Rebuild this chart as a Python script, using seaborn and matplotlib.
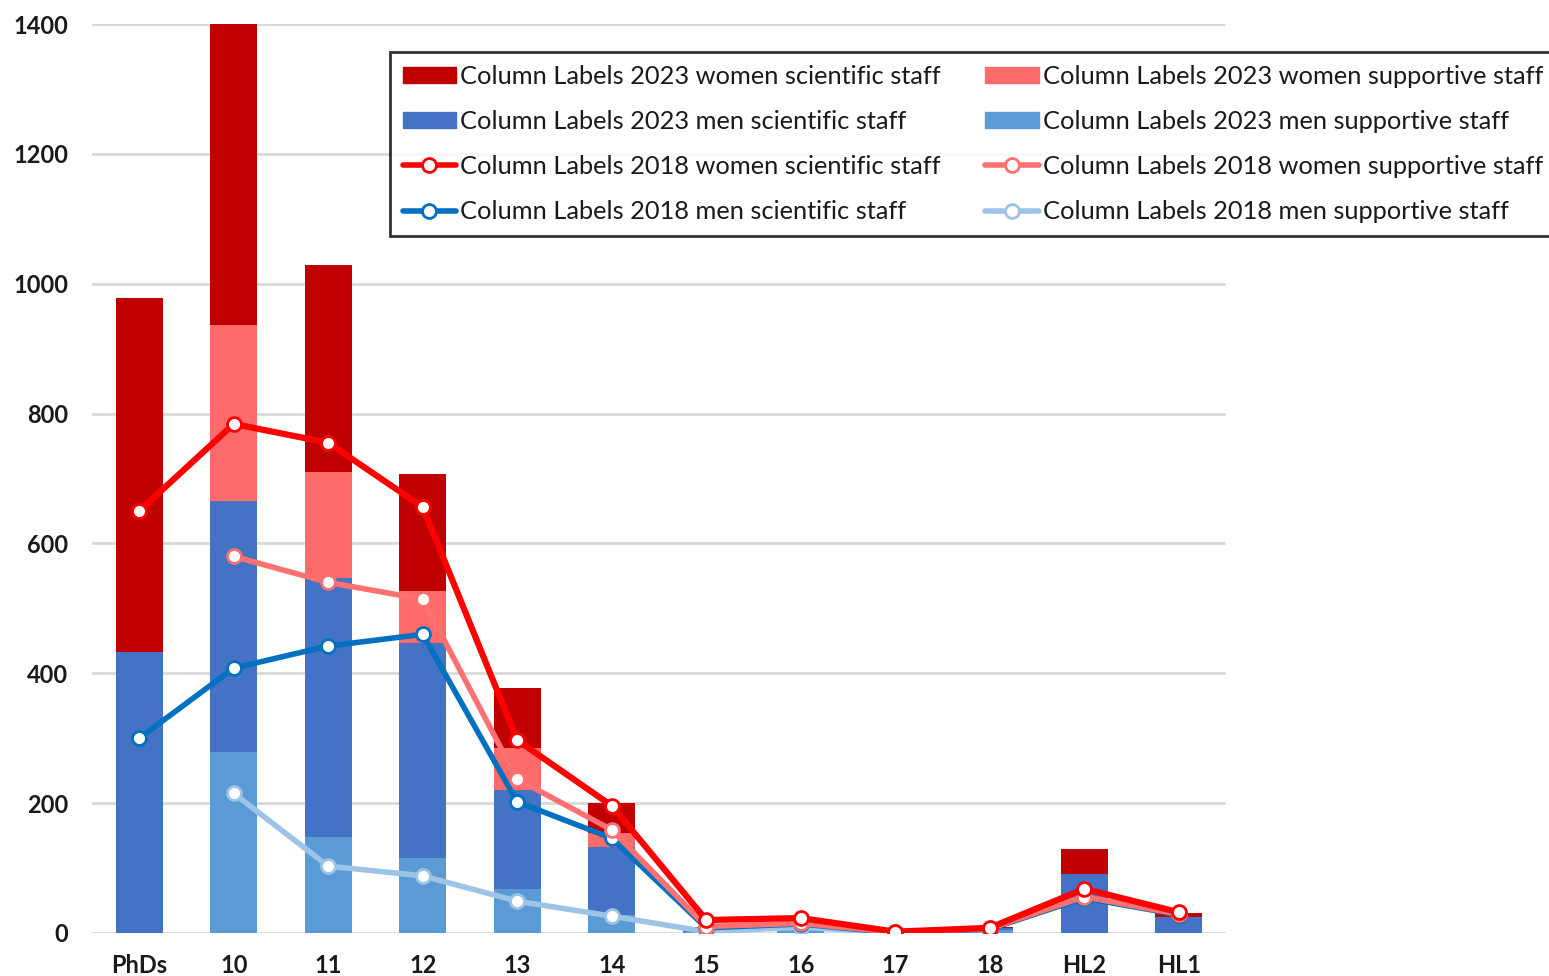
import numpy as np
import pandas as pd
import matplotlib
matplotlib.use("Agg")
import matplotlib.pyplot as plt
from matplotlib.patches import Patch
from matplotlib.lines import Line2D
import seaborn as sns

# Staff grade categories
categories = ["PhDs", "10", "11", "12", "13", "14", "15", "16", "17", "18", "HL2", "HL1"]

# 2023 headcounts per grade (stacked bars)
men_supp_2023 = [0, 279, 148, 116, 68, 28, 2, 5, 0, 4, 0, 0]
men_sci_2023 = [433, 386, 399, 331, 152, 104, 4, 5, 0, 3, 91, 25]
women_supp_2023 = [0, 271, 163, 80, 65, 22, 1, 2, 0, 1, 0, 0]
women_sci_2023 = [545, 464, 319, 180, 92, 46, 2, 2, 1, 1, 38, 6]

# 2018 headcounts per grade (stacked lines)
men_supp_2018 = [np.nan, 215, 103, 88, 49, 26, 2, 9, 0, 3, np.nan, np.nan]
men_sci_2018 = [300, 193, 339, 372, 153, 120, 6, 5, 0, 3, 54, 28]
women_supp_2018 = [np.nan, 172, 98, 54, 35, 13, 2, 1, 1, 1, 2, 1]
women_sci_2018 = [350, 204, 215, 142, 60, 37, 10, 8, 1, 1, 12, 3]

sns.set_theme(style="white")
plt.rcParams["font.family"] = ["Lato", "DejaVu Sans"]

fig = plt.figure(figsize=(15.49, 9.76), dpi=100)
ax = fig.add_axes([92 / 1549, 43 / 976, (1226 - 92) / 1549, (933 - 24) / 976])

# Stacked bars: draw cumulative totals from the top layer down
layers_2023 = [men_supp_2023, men_sci_2023, women_supp_2023, women_sci_2023]
bar_colors = ["#5B9BD5", "#4472C4", "#FF6B6B", "#C00000"]
cum = np.cumsum(np.array(layers_2023, dtype=float), axis=0)
for level in range(3, -1, -1):
    df = pd.DataFrame({"grade": categories, "value": cum[level]})
    sns.barplot(data=df, x="grade", y="value", order=categories, color=bar_colors[level],
                saturation=1, width=0.5, ax=ax, linewidth=0, zorder=2)

# Stacked lines for 2018
layers_2018 = np.array([men_supp_2018, men_sci_2018, women_supp_2018, women_sci_2018], dtype=float)
cum18 = np.cumsum(np.nan_to_num(layers_2018), axis=0)
cum18[np.isnan(layers_2018)] = np.nan
line_colors = ["#9DC3E6", "#0070C0", "#FF7070", "#FF0000"]
line_widths = [4, 4, 4, 4.5]
xpos = np.arange(len(categories))
for level in [0, 1, 2, 3]:
    df = pd.DataFrame({"x": xpos, "y": cum18[level]}).dropna()
    sns.lineplot(data=df, x="x", y="y", ax=ax, color=line_colors[level], lw=line_widths[level],
                 marker="o", markersize=10, markerfacecolor="white",
                 markeredgecolor=line_colors[level], markeredgewidth=2, zorder=3 + level)

ax.set_xlim(-0.5, 11.5)
ax.set_ylim(0, 1400)
ax.set_yticks(range(0, 1401, 200))
ax.yaxis.grid(True, color="#D9D9D9", lw=2)
ax.set_axisbelow(True)
for s in ax.spines.values():
    s.set_visible(False)
ax.set_xlabel("")
ax.set_ylabel("")
ax.tick_params(axis="both", length=0, labelsize=17, labelcolor="#1a1a1a")
ax.tick_params(axis="y", pad=17)
ax.tick_params(axis="x", pad=15)
for lab in ax.get_xticklabels() + ax.get_yticklabels():
    lab.set_fontweight("bold")

def line_handle(c):
    return Line2D([], [], color=c, lw=4, marker="o", markersize=10,
                  markerfacecolor="white", markeredgecolor=c, markeredgewidth=2)

handles = [
    Patch(color="#C00000"), Patch(color="#4472C4"), line_handle("#FF0000"), line_handle("#0070C0"),
    Patch(color="#FF6B6B"), Patch(color="#5B9BD5"), line_handle("#FF7070"), line_handle("#9DC3E6"),
]
labels = [
    "Column Labels 2023 women scientific staff", "Column Labels 2023 men scientific staff",
    "Column Labels 2018 women scientific staff", "Column Labels 2018 men scientific staff",
    "Column Labels 2023 women supportive staff", "Column Labels 2023 men supportive staff",
    "Column Labels 2018 women supportive staff", "Column Labels 2018 men supportive staff",
]
leg = fig.legend(handles, labels, ncol=2, loc="upper left",
                 bbox_to_anchor=(390 / 1549, 1 - 52 / 976), bbox_transform=fig.transFigure,
                 fontsize=18.3, frameon=True, fancybox=False, edgecolor="black",
                 handlelength=2.1, handleheight=0.6, handletextpad=0.16, columnspacing=1.75,
                 labelspacing=0.87, borderpad=0.5, borderaxespad=0)
leg.get_frame().set_linewidth(2)
for t in leg.get_texts():
    t.set_color("#1a1a1a")

fig.savefig("out.png", dpi=100, facecolor="white")
